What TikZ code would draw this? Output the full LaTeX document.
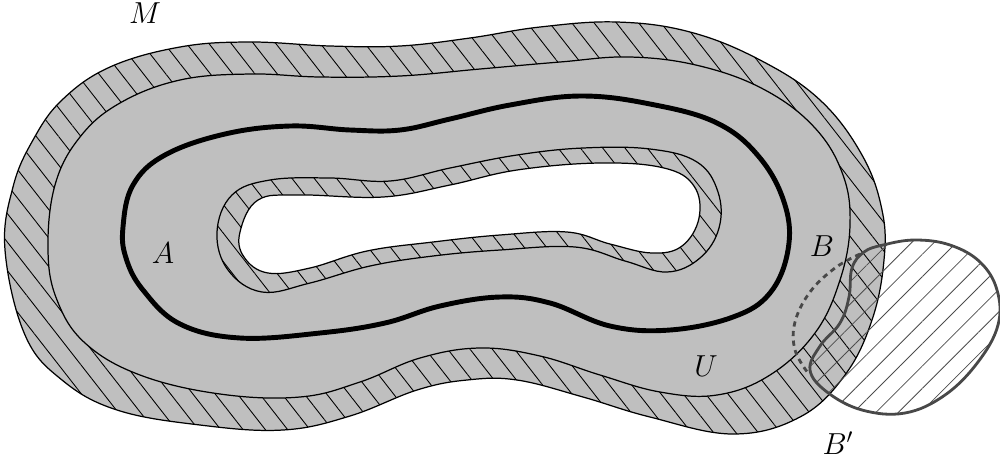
\documentclass[tikz,border=0pt]{standalone}
\usepackage{tikz}
\usetikzlibrary{patterns.meta}

\definecolor{mgray}{RGB}{191,191,191}
\definecolor{ballgray}{RGB}{72,72,72}

\begin{document}
\begin{tikzpicture}[
    x=0.02cm, y=-0.02cm,
    edge/.style={draw=black, line width=0.7pt},
    hatchM/.style={postaction={pattern={Lines[angle=-52, distance=10pt, line width=0.5pt]}, pattern color=black}},
    hatchB/.style={pattern={Lines[angle=45, distance=9pt, line width=0.45pt]}, pattern color=black!70},
    curveA/.style={draw=black, line width=2.8pt},
    ballline/.style={draw=ballgray, line width=1.6pt},
    lbl/.style={font=\LARGE, inner sep=0pt}
]
\useasboundingbox (0,0) rectangle (1000,461);

% outer band of M
\path[edge, fill=mgray, hatchM] plot[smooth cycle, tension=0.65] coordinates {
    (5,250) (13,187) (33,140) (62,100) (110,67) (180,47) (250,42) (330,46)
    (400,46) (470,38) (540,27) (617,22) (690,32) (760,60) (820,100)
    (862,155) (882,210) (884,260) (872,320) (845,375) (800,417)
    (733,434) (650,417) (583,397) (517,380) (467,380) (417,390)
    (350,416) (283,430) (200,425) (117,410) (62,380) (25,335)};

% U
\path[edge, fill=mgray] plot[smooth cycle, tension=0.65] coordinates {
    (48,250) (55,185) (80,137) (120,103) (180,80) (250,74) (320,77)
    (400,76) (480,69) (560,62) (630,57) (700,66) (765,90) (815,128)
    (843,175) (850,225) (840,280) (815,333) (770,375) (717,395)
    (660,392) (600,375) (540,356) (480,348) (420,358) (360,382)
    (300,397) (220,394) (140,375) (85,343) (57,300)};

% inner band and hole
\path[edge, hatchM] plot[smooth cycle, tension=0.65] coordinates {
    (217,232) (232,195) (270,180) (330,178) (390,181) (450,168) (517,155)
    (583,148) (650,149) (697,162) (718,192) (719,228) (700,258)
    (667,272) (625,261) (575,247) (500,250) (433,256) (370,266)
    (310,283) (262,292) (228,270)};
\path[edge, fill=white] plot[smooth cycle, tension=0.65] coordinates {
    (240,232) (258,200) (300,195) (383,197) (450,185) (517,170) (600,163)
    (664,168) (694,186) (699,218) (682,246) (652,253) (610,244) (567,232)
    (500,235) (433,242) (367,251) (310,268) (268,273) (244,257)};

% A
\path[curveA] plot[smooth cycle, tension=0.65] coordinates {
    (123,227) (133,185) (165,155) (225,134) (290,126) (350,130)
    (400,130) (450,119) (510,105) (580,96) (650,104) (717,123)
    (760,158) (785,205) (788,250) (770,293) (733,317)
    (670,330) (610,326) (550,303) (500,297) (440,306)
    (385,323) (320,333) (240,338) (180,324) (143,290) (126,258)};

% B and B'
\path[hatchB] plot[smooth cycle, tension=0.65] coordinates {
    (883,245) (915,240) (950,245) (980,262) (997,290) (998,325)
    (978,362) (945,395) (905,413) (862,410) (827,392) (810,370)
    (820,346) (840,323) (849,297) (852,268) (864,252)};
\path[ballline] plot[smooth cycle, tension=0.65] coordinates {
    (883,245) (915,240) (950,245) (980,262) (997,290) (998,325)
    (978,362) (945,395) (905,413) (862,410) (827,392) (810,370)
    (820,346) (840,323) (849,297) (852,268) (864,252)};
\path[ballline, dash pattern=on 3pt off 2.5pt] plot[smooth, tension=0.65] coordinates {
    (860,254) (835,268) (810,292) (795,322) (795,350) (808,373)};

% labels
\node[lbl] (labelM) at (145,13) {$M$};
\node[lbl] (labelA) at (163,253) {$A$};
\node[lbl] (labelB) at (822,246) {$B$};
\node[lbl] (labelU) at (706,366) {$U$};
\node[lbl] (labelBp) at (838,443) {$B'$};

\end{tikzpicture}
\end{document}
